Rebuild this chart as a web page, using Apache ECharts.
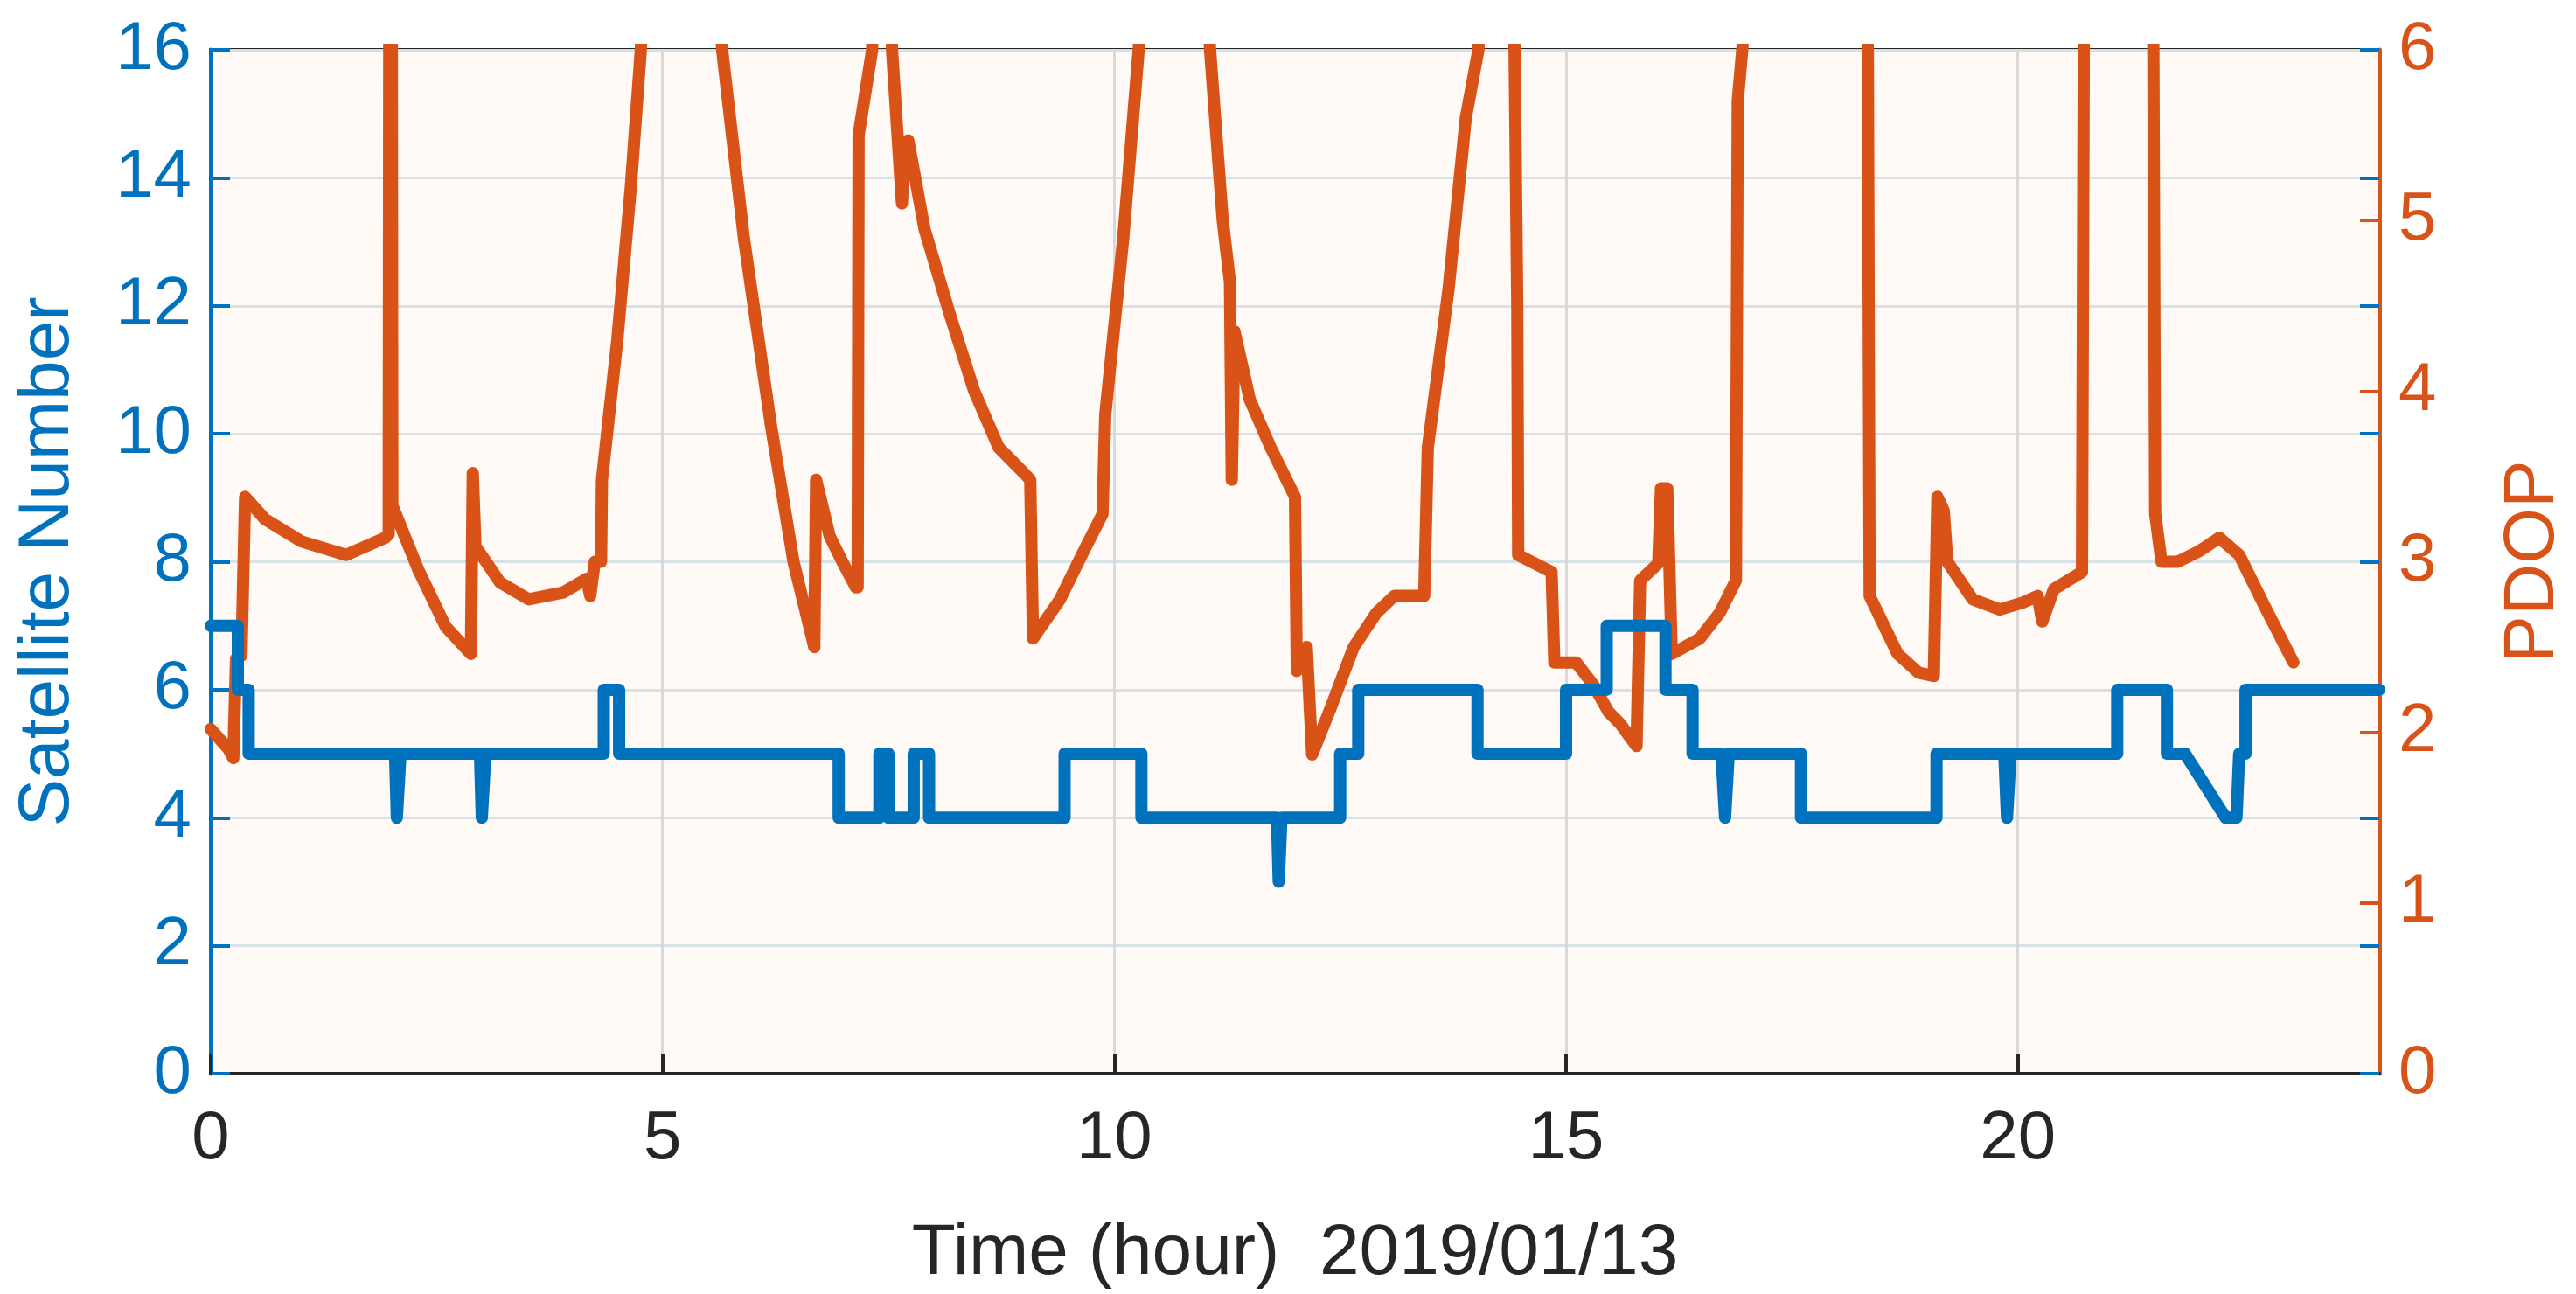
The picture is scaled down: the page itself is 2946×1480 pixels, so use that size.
<!DOCTYPE html>
<html>
<head>
<meta charset="UTF-8">
<script src="https://cdn.jsdelivr.net/npm/echarts@6/dist/echarts.min.js"></script>
<style>html,body{margin:0;background:#fff}#main{width:2946px;height:1480px}</style>
</head>
<body>
<div id="main"></div>
<script>
// satellite count, step series as [hour, count]
var satNumber = [
  [0,7],[0.3,7],[0.3,6],[0.42,6],[0.42,5],[2.04,5],[2.06,4],[2.1,5],[2.98,5],[3.0,4],[3.04,5],
  [4.35,5],[4.35,6],[4.52,6],[4.52,5],[6.95,5],[6.95,4],[7.4,4],[7.4,5],[7.5,5],[7.5,4],
  [7.78,4],[7.78,5],[7.95,5],[7.95,4],[9.45,4],[9.45,5],[10.3,5],[10.3,4],[11.8,4],[11.82,3],
  [11.85,4],[12.5,4],[12.5,5],[12.7,5],[12.7,6],[14.02,6],[14.02,5],[15.0,5],[15.0,6],
  [15.45,6],[15.45,7],[16.1,7],[16.1,6],[16.4,6],[16.4,5],[16.72,5],[16.76,4],[16.8,5],
  [17.6,5],[17.6,4],[19.1,4],[19.1,5],[19.85,5],[19.88,4],[19.92,5],[21.1,5],[21.1,6],
  [21.65,6],[21.65,5],[21.85,5],[22.3,4],[22.42,4],[22.45,5],[22.52,5],[22.52,6],[24,6]
];
// PDOP as [hour, value]; values above 6 are clipped by the axis
var pdop = [
  [0,2.02],[0.2,1.9],[0.25,1.85],[0.28,2.43],[0.34,2.45],[0.38,3.38],[0.6,3.25],[1.0,3.12],[1.5,3.04],[1.93,3.14],
  [1.97,3.16],[1.98,8],[2.0,8],[2.01,3.33],[2.3,2.95],[2.6,2.62],[2.88,2.46],[2.9,3.52],[2.93,3.09],
  [3.2,2.88],[3.52,2.78],[3.9,2.82],[4.16,2.9],[4.2,2.8],[4.25,3.0],[4.32,3.0],[4.33,3.48],[4.5,4.3],
  [4.65,5.2],[4.76,6],[4.9,8],[5.5,8],[5.66,6],[5.9,4.9],[6.2,3.8],[6.45,3.0],[6.68,2.5],[6.7,3.48],
  [6.85,3.15],[6.99,3.0],[7.14,2.85],[7.16,2.85],[7.17,5.5],[7.32,6],[7.4,8],[7.48,8],[7.54,6],
  [7.65,5.1],[7.68,5.45],[7.72,5.47],[7.9,4.95],[8.18,4.45],[8.45,4.0],[8.72,3.67],[9.0,3.52],
  [9.07,3.48],[9.1,2.55],[9.4,2.78],[9.65,3.05],[9.87,3.28],[9.9,3.86],[10.1,4.9],[10.27,6],
  [10.5,8],[10.9,8],[11.06,6],[11.2,5.0],[11.28,4.64],[11.3,3.48],[11.33,4.35],[11.5,3.95],
  [11.73,3.67],[12.0,3.38],[12.02,2.36],[12.13,2.5],[12.19,1.87],[12.4,2.15],[12.65,2.5],
  [12.9,2.7],[13.1,2.8],[13.43,2.8],[13.47,3.67],[13.7,4.6],[13.89,5.6],[14.03,6],[14.2,8],
  [14.3,8],[14.43,6],[14.46,4.5],[14.47,3.04],[14.84,2.94],[14.87,2.41],[15.11,2.41],[15.3,2.28],
  [15.47,2.12],[15.6,2.05],[15.78,1.92],[15.82,2.89],[16.02,2.99],[16.05,3.43],[16.12,3.43],
  [16.17,2.46],[16.48,2.55],[16.7,2.7],[16.88,2.89],[16.9,5.7],[16.95,6],[17.2,8],[18.2,8],
  [18.34,6],[18.36,2.8],[18.67,2.46],[18.9,2.35],[19.07,2.33],[19.11,3.38],[19.18,3.3],[19.22,3.0],
  [19.5,2.78],[19.8,2.72],[20.05,2.76],[20.22,2.8],[20.27,2.65],[20.4,2.84],[20.71,2.94],
  [20.73,6],[20.75,8],[21.45,8],[21.5,6],[21.52,3.28],[21.59,3.0],[21.77,3.0],[22.0,3.06],
  [22.23,3.14],[22.45,3.04],[22.75,2.72],[23.05,2.41]
];
var blue = '#0072BD', orange = '#D95319', dark = '#262626';
var font = 'Liberation Sans, Arial, sans-serif';

var chart = echarts.init(document.getElementById('main'));
chart.setOption({
  backgroundColor: '#ffffff',
  animation: false,
  grid: { left: 241, right: 205, top: 57, bottom: 248, show: true, backgroundColor: '#FFFAF5', borderColor: dark, borderWidth: 4 },
  xAxis: {
    type: 'value', min: 0, max: 24, interval: 5,
    name: 'Time (hour)  2019/01/13', nameLocation: 'middle', nameGap: 165,
    nameTextStyle: { color: dark, fontSize: 82, fontFamily: font },
    axisLine: { onZero: false, lineStyle: { color: dark, width: 4 } },
    axisTick: { inside: true, length: 22, lineStyle: { color: dark, width: 4 } },
    axisLabel: { color: dark, fontSize: 78, fontFamily: font, margin: 36, showMaxLabel: false },
    splitLine: { show: true, lineStyle: { color: '#d9d9d9', width: 3 } }
  },
  yAxis: [{
    type: 'value', min: 0, max: 16, interval: 2,
    name: 'Satellite Number', nameLocation: 'middle', nameGap: 145,
    nameTextStyle: { color: blue, fontSize: 82, fontFamily: font },
    axisLine: { show: true, onZero: false, lineStyle: { color: blue, width: 5 } },
    axisTick: { show: true, inside: true, length: 22, lineStyle: { color: blue, width: 4 } },
    axisLabel: { color: blue, fontSize: 78, fontFamily: font, margin: 22 },
    splitLine: { show: true, lineStyle: { color: '#d8e1e6', width: 3 } }
  }, {
    type: 'value', min: 0, max: 6, interval: 1, position: 'right',
    name: 'PDOP', nameLocation: 'middle', nameGap: 135, nameRotate: 90,
    nameTextStyle: { color: orange, fontSize: 82, fontFamily: font },
    axisLine: { show: true, onZero: false, lineStyle: { color: orange, width: 5 } },
    axisTick: { show: true, inside: true, length: 22, lineStyle: { color: orange, width: 4 } },
    axisLabel: { color: orange, fontSize: 78, fontFamily: font, margin: 22 },
    splitLine: { show: false }
  }, {
    type: 'value', min: 0, max: 16, interval: 2, position: 'right',
    axisLine: { show: false, onZero: false },
    axisTick: { show: true, inside: true, length: 22, lineStyle: { color: blue, width: 4 } },
    axisLabel: { show: false }, splitLine: { show: false }
  }],
  series: [{
    type: 'line', data: satNumber, yAxisIndex: 0, showSymbol: false,
    lineStyle: { color: blue, width: 14, join: 'round', cap: 'round' }, z: 3
  }, {
    type: 'line', data: pdop, yAxisIndex: 1, showSymbol: false, clip: true,
    lineStyle: { color: orange, width: 14, join: 'round', cap: 'round' }, z: 2
  }]
});
</script>
</body>
</html>
